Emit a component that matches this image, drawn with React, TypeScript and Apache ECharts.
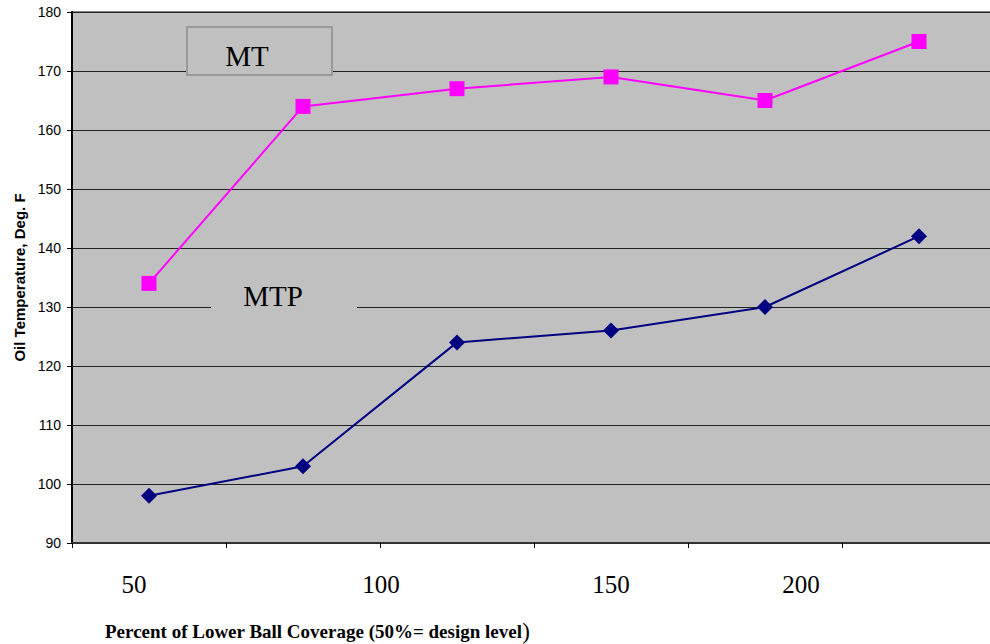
import React, { useEffect, useRef } from "react";
import * as echarts from "echarts";

// Six coverage settings along the x axis (one category each)
const categories = ["1", "2", "3", "4", "5", "6"];
// Oil temperatures, deg. F
const mtValues = [134, 164, 167, 169, 165, 175];
const mtpValues = [98, 103, 124, 126, 130, 142];
// Hand-placed coverage labels under the axis
const xTickLabels = ["50", "100", "150", "200"];
const xTickCenters = [134, 381, 611, 801];

// The plot runs a few pixels past the right edge of the page
const W = 996;
const H = 644;

export default function App() {
  const ref = useRef<HTMLDivElement>(null);

  useEffect(() => {
    if (!ref.current) return;
    const chart = echarts.init(ref.current, null, { renderer: "svg", width: W, height: H });
    const serif = "'Liberation Serif', 'Times New Roman', serif";
    const sans = "'Liberation Sans', Arial, sans-serif";

    chart.setOption({
      animation: false,
      backgroundColor: "#ffffff",
      grid: {
        left: 72,
        top: 12,
        right: 0,
        bottom: 101,
        show: true,
        backgroundColor: "#C0C0C0",
        borderColor: "#808080",
        borderWidth: 2,
      },
      xAxis: {
        type: "category",
        data: categories,
        boundaryGap: true,
        axisLine: { show: true, lineStyle: { color: "#333333", width: 2 } },
        axisTick: { show: true, length: 5, inside: false, lineStyle: { color: "#000", width: 1 } },
        axisLabel: { show: false },
        splitLine: { show: false },
      },
      yAxis: {
        type: "value",
        min: 90,
        max: 180,
        interval: 10,
        name: "Oil Temperature, Deg. F",
        nameLocation: "middle",
        nameGap: 39,
        nameRotate: 90,
        nameTextStyle: { fontFamily: sans, fontWeight: "bold", fontSize: 15, color: "#000" },
        axisLine: { show: true, lineStyle: { color: "#000", width: 2 } },
        axisTick: { show: true, length: 5, lineStyle: { color: "#000", width: 1 } },
        axisLabel: { fontFamily: sans, fontSize: 14, color: "#000", margin: 11 },
        splitLine: { show: true, lineStyle: { color: "#222222", width: 1 } },
      },
      graphic: [
        {
          type: "rect",
          shape: { x: 187, y: 27, width: 145, height: 48 },
          style: { fill: "#C0C0C0", stroke: "#999999", lineWidth: 2 },
          z: 10,
        },
        {
          type: "text",
          x: 247,
          y: 56,
          style: { text: "MT", fontFamily: serif, fontSize: 29, fill: "#000", align: "center", verticalAlign: "middle" },
          z: 11,
        },
        {
          type: "rect",
          shape: { x: 211, y: 276, width: 146, height: 44 },
          style: { fill: "#C0C0C0", lineWidth: 0 },
          z: 10,
        },
        {
          type: "text",
          x: 273,
          y: 296,
          style: { text: "MTP", fontFamily: serif, fontSize: 29, fill: "#000", align: "center", verticalAlign: "middle" },
          z: 11,
        },
        ...xTickLabels.map((t, i) => ({
          type: "text",
          x: xTickCenters[i],
          y: 584,
          style: { text: t, fontFamily: serif, fontSize: 25, fill: "#000", align: "center", verticalAlign: "middle" },
        })),
        {
          type: "text",
          x: 105,
          y: 631,
          style: {
            text: "{a|Percent of Lower Ball Coverage (50%= design level}{b|)}",
            align: "left",
            verticalAlign: "middle",
            rich: {
              a: { fontFamily: serif, fontWeight: "bold", fontSize: 19, fill: "#000" },
              b: { fontFamily: serif, fontWeight: "normal", fontSize: 23, fill: "#000" },
            },
          },
        },
      ],
      series: [
        {
          name: "MT",
          type: "line",
          data: mtValues,
          symbol: "rect",
          symbolSize: 15,
          lineStyle: { color: "#FF00FF", width: 2 },
          itemStyle: { color: "#FF00FF" },
          z: 20,
        },
        {
          name: "MTP",
          type: "line",
          data: mtpValues,
          symbol: "diamond",
          symbolSize: 16,
          lineStyle: { color: "#000080", width: 2 },
          itemStyle: { color: "#000080" },
          z: 20,
        },
      ],
    });

    return () => chart.dispose();
  }, []);

  return (
    <div
      ref={ref}
      style={{ position: "fixed", left: 0, top: 0, width: W, height: H, overflow: "hidden" }}
    />
  );
}
